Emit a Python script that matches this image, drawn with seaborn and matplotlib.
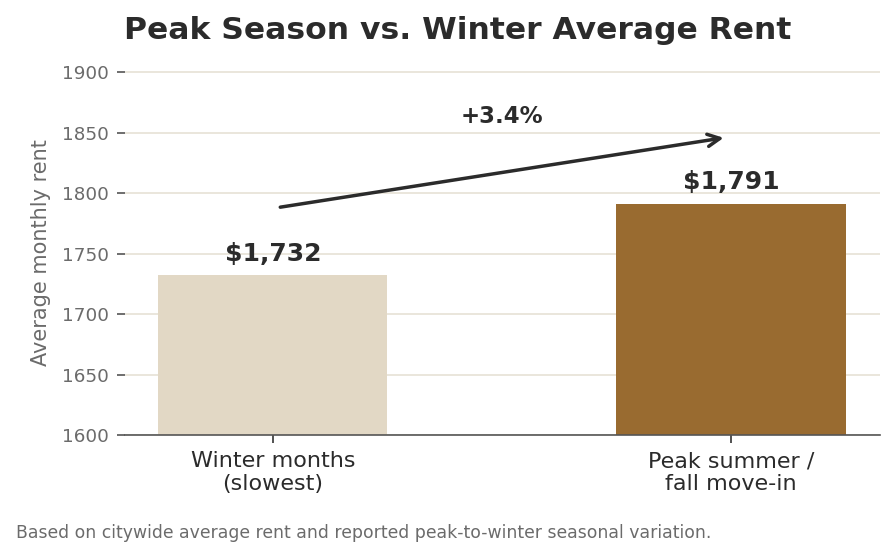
import matplotlib
matplotlib.use("Agg")
import matplotlib.pyplot as plt
import seaborn as sns
import pandas as pd

# data
categories = ["Winter months\n(slowest)", "Peak summer /\nfall move-in"]
rents = [1732, 1791]
rent_labels = ["$1,732", "$1,791"]
bar_colors = ["#e2d8c5", "#996b30"]
pct_change = "+3.4%"
y_ticks = [1600, 1650, 1700, 1750, 1800, 1850, 1900]

sns.set_style("white")
plt.rcParams["font.family"] = ["DejaVu Sans"]

fig, ax = plt.subplots(figsize=(8.96, 5.58), dpi=100)
fig.subplots_adjust(left=0.1395, right=0.982, bottom=0.22, top=0.8753)

df = pd.DataFrame({"period": categories, "rent": rents})
sns.barplot(data=df, x="period", y="rent", hue="period", palette=bar_colors,
            width=0.5, saturation=1, legend=False, ax=ax, linewidth=0)

ax.set_ylim(1600, 1902)
ax.set_xlim(-0.323, 1.325)
ax.set_yticks(y_ticks)
ax.yaxis.grid(True, color="#e6e1d6", linewidth=1.2)
ax.set_axisbelow(True)

for side in ["left", "top", "right"]:
    ax.spines[side].set_visible(False)
ax.spines["bottom"].set_color("#555555")
ax.spines["bottom"].set_linewidth(1.2)

ax.tick_params(axis="y", left=True, length=5.5, width=1.2, color="#555555",
               pad=6, labelsize=13.2, labelcolor="#6b6b6b")
ax.tick_params(axis="x", bottom=True, length=6, width=1.2, color="#333333",
               pad=5.5, labelsize=16, labelcolor="#2b2b2b")
ax.set_xlabel("")
ax.set_ylabel("Average monthly rent", fontsize=15, color="#6b6b6b", labelpad=8)

# value labels above bars
for i, (v, lab) in enumerate(zip(rents, rent_labels)):
    ax.text(i, v + 8, lab, ha="center", va="bottom", fontsize=18,
            fontweight="bold", color="#2b2b2b")

# growth arrow
ax.annotate("", xy=(0.99, rents[1] + 55), xytext=(0.01, rents[0] + 56),
            arrowprops=dict(arrowstyle="->", lw=2.5, color="#2b2b2b",
                            mutation_scale=22))
ax.text(0.5, 1863, pct_change, ha="center", va="center", fontsize=16.5,
        fontweight="bold", color="#2b2b2b")

fig.text(0.511, 0.946, "Peak Season vs. Winter Average Rent", ha="center",
         va="center", fontsize=22.6, fontweight="bold", color="#2b2b2b")
fig.text(0.018, 0.045,
         "Based on citywide average rent and reported peak-to-winter seasonal variation.",
         ha="left", va="center", fontsize=12.4, color="#6b6b6b")

fig.savefig("out.png", dpi=100)
